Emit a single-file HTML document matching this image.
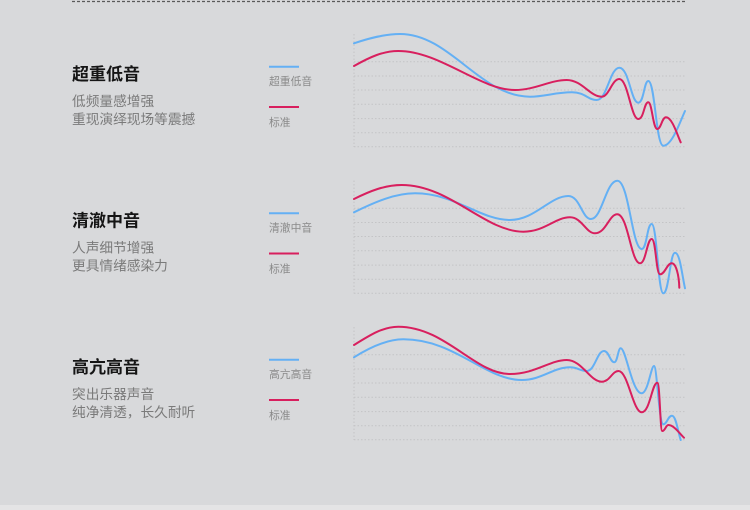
<!DOCTYPE html>
<html><head><meta charset="utf-8"><style>
html,body{margin:0;padding:0;background:#d8d9db;}
svg{display:block;}
.t{font-family:"Liberation Sans","Noto Sans CJK SC",sans-serif;}
</style></head><body>
<svg width="750" height="510" viewBox="0 0 750 510" xmlns="http://www.w3.org/2000/svg">
<rect width="750" height="510" fill="#d8d9db"/>
<rect x="0" y="505" width="750" height="5" fill="#e4e4e5"/>
<line x1="72" y1="1.5" x2="685" y2="1.5" stroke="#5a5a5a" stroke-width="1.2" stroke-dasharray="3 2"/>

<defs>
<g id="grid">
<line x1="354" y1="34" x2="354" y2="147" stroke="#c3c4c6" stroke-width="1" stroke-dasharray="1.5 2"/>
<g stroke="#c3c4c6" stroke-width="1" stroke-dasharray="1.5 2">
<line x1="354" y1="61.7" x2="685" y2="61.7"/>
<line x1="354" y1="76" x2="685" y2="76"/>
<line x1="354" y1="90" x2="685" y2="90"/>
<line x1="354" y1="104.3" x2="685" y2="104.3"/>
<line x1="354" y1="118.6" x2="685" y2="118.6"/>
<line x1="354" y1="132.7" x2="685" y2="132.7"/>
<line x1="354" y1="146.7" x2="685" y2="146.7"/>
</g>
<line x1="269" y1="66.7" x2="299" y2="66.7" stroke="#64b0f4" stroke-width="2"/>
<line x1="269" y1="107" x2="299" y2="107" stroke="#d81f5e" stroke-width="2"/>
</g>
</defs>

<use href="#grid"/>
<use href="#grid" transform="translate(0,146.5)"/>
<use href="#grid" transform="translate(0,293)"/>

<!-- Chart 1 -->
<g class="t">
<text x="72" y="80" font-size="17" font-weight="700" fill="#151515">超重低音</text>
<text x="72" y="106.2" font-size="13.7" fill="#7a7a7a">低频量感增强</text>
<text x="72" y="124.2" font-size="13.7" fill="#7a7a7a">重现演绎现场等震撼</text>
<text x="269" y="85.1" font-size="10.8" fill="#8a8a8a">超重低音</text>
<text x="269" y="125.8" font-size="10.8" fill="#8a8a8a">标准</text>
</g>
<path fill="none" stroke="#64b0f4" stroke-width="2" stroke-linecap="round" d="M354,43.3 C370,38 385,34 400,34 C450,34 480,96.7 530,96.7 C545,96.7 555,92.3 572,92.3 C585,92.3 588,100 596.7,100 C607,100 610,67.7 619.3,67.7 C629,67.7 631,102.7 638.3,102.7 C644,102.7 644,81 648.3,81 C655,81 656,145.7 663.3,145.7 C672,145.7 680,122 685,111"/>
<path fill="none" stroke="#d81f5e" stroke-width="2" stroke-linecap="round" d="M354,66 C370,57 383,51 398.3,51 C440,51 480,90 515,90 C535,90 550,80 566.7,80 C582,80 590,96.7 601.7,96.7 C609,96.7 612,79 619.3,79 C628,79 631,119 638.3,119 C644,119 644,102.3 648.3,102.3 C652,102.3 653,129 657.3,129 C661,129 662,117.3 666,117.3 C672,117.3 677,134 680.7,142.3"/>

<!-- Chart 2 -->
<g class="t">
<text x="72" y="226.5" font-size="17" font-weight="700" fill="#151515">清澈中音</text>
<text x="72" y="252.7" font-size="13.7" fill="#7a7a7a">人声细节增强</text>
<text x="72" y="270.7" font-size="13.7" fill="#7a7a7a">更具情绪感染力</text>
<text x="269" y="231.6" font-size="10.8" fill="#8a8a8a">清澈中音</text>
<text x="269" y="272.3" font-size="10.8" fill="#8a8a8a">标准</text>
</g>
<path fill="none" stroke="#64b0f4" stroke-width="2" stroke-linecap="round" d="M354,212.3 C375,202 395,193.3 415,193.3 C455,193.3 480,220 510,220 C535,220 550,196 568.3,196 C580,196 582,219 591,219 C602,219 606,180.7 617.3,180.7 C629,180.7 632,249 641.7,249 C647,249 647,224 651.7,224 C657,224 658,293.3 663.3,293.3 C669,293.3 670,252.7 675,252.7 C680,252.7 682,275 685,288.3"/>
<path fill="none" stroke="#d81f5e" stroke-width="2" stroke-linecap="round" d="M354,199 C370,191 385,185 401.7,185 C450,185 485,231.7 523.3,231.7 C545,231.7 555,217.3 570,217.3 C582,217.3 586,233.3 595,233.3 C606,233.3 609,214.3 617.3,214.3 C628,214.3 631,263.3 640,263.3 C646,263.3 647,239 651.7,239 C656,239 656,274.3 660,274.3 C665,274.3 667,263.3 671.7,263.3 C676,263.3 679,275 679.3,287.7"/>

<!-- Chart 3 -->
<g class="t">
<text x="72" y="373" font-size="17" font-weight="700" fill="#151515">高亢高音</text>
<text x="72" y="399.2" font-size="13.7" fill="#7a7a7a">突出乐器声音</text>
<text x="72" y="417.2" font-size="13.7" fill="#7a7a7a">纯净清透，长久耐听</text>
<text x="269" y="378.1" font-size="10.8" fill="#8a8a8a">高亢高音</text>
<text x="269" y="418.8" font-size="10.8" fill="#8a8a8a">标准</text>
</g>
<path fill="none" stroke="#64b0f4" stroke-width="2" stroke-linecap="round" d="M354,357.3 C372,346 388,339.3 403.3,339.3 C455,339.3 485,380 521.7,380 C542,380 553,367.3 570,367.3 C578,367.3 580,371 586.7,371 C595,371 597,351 604,351 C609,351 610,362.3 614.3,362.3 C617.5,362.3 618,348.3 620.7,348.3 C626,348.3 632,393.3 641.7,393.3 C648,393.3 651,366 654,366 C657,366 659,424.3 663.3,424.3 C667,424.3 668,415.7 672,415.7 C676,415.7 678,432 680.7,440"/>
<path fill="none" stroke="#d81f5e" stroke-width="2" stroke-linecap="round" d="M354,345 C370,335 383,326.7 398.3,326.7 C445,326.7 475,374 510,374 C535,374 550,360 566.7,360 C582,360 590,381.7 601.7,381.7 C610,381.7 612,371 618.5,371 C628,371 633,412.3 641.7,412.3 C650,412.3 652,382.7 657.3,382.7 C660,382.7 660,431 662.3,431 C665,431 666,425 668.3,425 C674,425 680,434 684,437.7"/>
</svg>
</body></html>
